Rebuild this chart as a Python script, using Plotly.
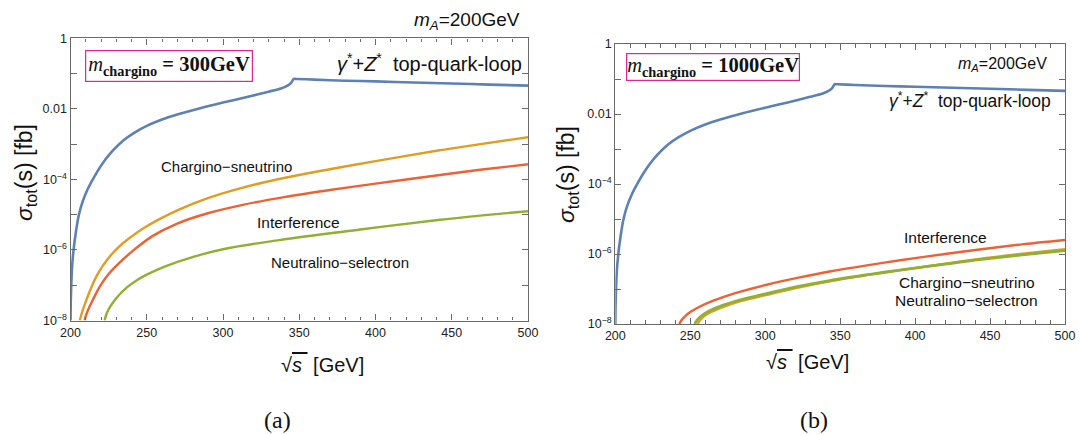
import plotly.graph_objects as go

# ---------------- data ----------------
# top-quark-loop (gamma*+Z*), same in both panels
s_loop = [200, 200.15, 200.5, 201, 202, 203.5, 205.5, 208, 211, 215, 219, 223, 228, 235, 242,
          250, 260, 270, 285, 300, 315, 330, 338, 342, 344.5, 346.3, 348, 360, 380, 400, 425,
          450, 475, 500]
sig_loop = [1e-8, 3.16e-8, 1e-7, 3.16e-7, 1e-6, 3.16e-6, 1e-5, 2.40e-5, 5.01e-5, 1.07e-4,
            2.09e-4, 3.72e-4, 6.76e-4, 1.32e-3, 2.14e-3, 3.31e-3, 5.01e-3, 6.92e-3, 1.05e-2,
            1.51e-2, 2.14e-2, 3.09e-2, 3.80e-2, 4.47e-2, 5.37e-2, 7.08e-2, 7.08e-2, 6.76e-2,
            6.31e-2, 6.03e-2, 5.62e-2, 5.25e-2, 4.90e-2, 4.57e-2]

# panel (a): m_chargino = 300 GeV
s_a_cs = [206.1, 207, 208.5, 210.4, 213.5, 217, 221, 226, 231, 237, 250, 270, 290, 313, 340,
          370, 400, 441, 470, 500]
sig_a_cs = [1e-8, 1.41e-8, 2.24e-8, 3.80e-8, 8.32e-8, 1.78e-7, 3.47e-7, 6.76e-7, 1.15e-6,
            1.91e-6, 4.68e-6, 1.32e-5, 2.95e-5, 5.89e-5, 1.10e-4, 1.95e-4, 3.31e-4, 6.61e-4,
            1.02e-3, 1.58e-3]
s_a_int = [209.3, 210.2, 212, 214.8, 218, 221.3, 225, 230, 241, 254, 270, 290, 313, 340, 370,
           400, 441, 470, 500]
sig_a_int = [1e-8, 1.41e-8, 2.24e-8, 3.98e-8, 7.41e-8, 1.26e-7, 2.09e-7, 3.55e-7, 9.55e-7,
             2.51e-6, 5.62e-6, 1.10e-5, 1.91e-5, 3.16e-5, 5.01e-5, 7.59e-5, 1.32e-4, 1.91e-4,
             2.69e-4]
s_a_ns = [222.4, 223.3, 225, 228, 232, 237, 243, 250, 263, 280, 300, 337, 390, 441, 470, 500]
sig_a_ns = [1e-8, 1.41e-8, 2.09e-8, 3.31e-8, 5.37e-8, 8.71e-8, 1.35e-7, 2.0e-7, 3.55e-7, 6.31e-7,
            1.05e-6, 1.91e-6, 3.80e-6, 7.08e-6, 9.55e-6, 1.26e-5]

# panel (b): m_chargino = 1000 GeV
s_b_int = [242.7, 244, 246.5, 250, 256.5, 265, 279, 301, 323, 343, 370, 390, 420, 443, 470, 500]
sig_b_int = [1e-8, 1.26e-8, 1.66e-8, 2.19e-8, 3.16e-8, 4.57e-8, 7.41e-8, 1.32e-7, 2.14e-7,
             3.16e-7, 4.90e-7, 6.61e-7, 1.0e-6, 1.35e-6, 1.86e-6, 2.51e-6]
s_b_cs = [255, 256.3, 258.5, 262, 267, 274, 282, 292, 303, 323, 343, 370, 390, 420, 443, 470, 500]
sig_b_cs = [1e-8, 1.26e-8, 1.58e-8, 2.0e-8, 2.51e-8, 3.31e-8, 4.27e-8, 5.50e-8, 7.08e-8, 1.12e-7,
            1.66e-7, 2.57e-7, 3.47e-7, 5.25e-7, 7.24e-7, 1.0e-6, 1.38e-6]
s_b_ns = [253, 254.3, 256.5, 260, 265, 272, 280, 290, 301, 323, 343, 370, 390, 420, 443, 470, 500]
sig_b_ns = [1e-8, 1.26e-8, 1.58e-8, 2.04e-8, 2.63e-8, 3.47e-8, 4.47e-8, 5.75e-8, 7.41e-8, 1.20e-7,
            1.74e-7, 2.63e-7, 3.47e-7, 5.13e-7, 6.92e-7, 9.33e-7, 1.26e-6]

x_ticks = [200, 250, 300, 350, 400, 450, 500]
y_ticks = [1, 1e-2, 1e-4, 1e-6, 1e-8]
y_ticktext = ["1", "0.01", "10<sup>−4</sup>", "10<sup>−6</sup>", "10<sup>−8</sup>"]
y_minor = [1e-1, 1e-3, 1e-5, 1e-7]

BLUE, ORANGE, GREEN, RED = "#5E81B5", "#E19C24", "#8FB032", "#EB6235"

W, H = 1080, 435
fig = go.Figure()


def add(x, y, color, xa, ya, width=2.4, smoothing=1.0):
    fig.add_trace(go.Scatter(x=x, y=y, mode="lines", xaxis=xa, yaxis=ya, showlegend=False,
                             hoverinfo="skip",
                             line=dict(color=color, width=width, shape="spline",
                                       smoothing=smoothing)))


add(s_loop, sig_loop, BLUE, "x", "y", 2.6, 0.6)
add(s_a_cs, sig_a_cs, ORANGE, "x", "y")
add(s_a_int, sig_a_int, RED, "x", "y")
add(s_a_ns, sig_a_ns, GREEN, "x", "y")

add(s_loop, sig_loop, BLUE, "x2", "y2", 2.6, 0.6)
add(s_b_int, sig_b_int, RED, "x2", "y2")
add(s_b_cs, sig_b_cs, ORANGE, "x2", "y2")
add(s_b_ns, sig_b_ns, GREEN, "x2", "y2", 2.8)


def px(x):
    return x / W


def py(y):
    return 1 - y / H


FRAME = "#6a6a6a"
tickfont = dict(family="Liberation Sans, Arial", size=12.5, color="#222")

xcommon = dict(range=[200, 500], tickvals=x_ticks, ticks="inside", ticklen=6, tickwidth=1,
               tickcolor=FRAME, showline=True, linecolor=FRAME, linewidth=1.3, mirror="ticks",
               showgrid=False, zeroline=False, tickfont=tickfont, automargin=False,
               minor=dict(dtick=10, tick0=200, ticks="inside", ticklen=3.5, tickcolor=FRAME,
                          showgrid=False))
ycommon = dict(type="log", range=[-8, 0], tickvals=y_ticks, ticktext=y_ticktext, ticks="inside",
               ticklen=6, tickwidth=1, tickcolor=FRAME, showline=True, linecolor=FRAME,
               linewidth=1.3, mirror="ticks", showgrid=False, zeroline=False, tickfont=tickfont,
               automargin=False,
               minor=dict(tickvals=y_minor, ticks="inside", ticklen=6, tickcolor=FRAME,
                          showgrid=False))

fig.update_layout(
    width=W, height=H, margin=dict(l=0, r=0, t=0, b=0, pad=0, autoexpand=False),
    paper_bgcolor="white", plot_bgcolor="white",
    xaxis=dict(domain=[px(70.5), px(528)], anchor="y", **xcommon),
    yaxis=dict(domain=[py(320.5), py(38.4)], anchor="x", **ycommon),
    xaxis2=dict(domain=[px(615.3), px(1065)], anchor="y2", **xcommon),
    yaxis2=dict(domain=[py(324), py(44)], anchor="x2", **ycommon),
)

SANS = "Liberation Sans, Arial"
SERIF = "Liberation Serif, Times New Roman"
ann = []


def text(x, y, t, size, family=SANS, color="#111", **kw):
    ann.append(dict(x=px(x), y=py(y), xref="paper", yref="paper", text=t, showarrow=False,
                    font=dict(family=family, size=size, color=color), xanchor="center",
                    yanchor="middle", **kw))


mch = "<i>m</i><sub><b>chargino</b></sub><b> = {}GeV</b>"
sqrt_s = "√<span style='text-decoration:overline'><i>s</i> </span> [GeV]"
gz = "<i>γ</i><sup>*</sup>+<i>Z</i><sup>*</sup>  top-quark-loop"
ma = "<i>m</i><sub><i>A</i></sub>=200GeV"
sigma = "<i>σ</i><sub>tot</sub>(s) [fb]"
MAG = "#E0268F"

# panel (a)
text(467, 21, ma, 19)
text(429, 62, gz, 20)
text(169, 65.5, mch.format(300), 20.5, family=SERIF, bordercolor=MAG, borderwidth=1.2,
     borderpad=2, bgcolor="white")
text(226, 167, "Chargino−sneutrino", 15)
text(298, 223, "Interference", 15.5)
text(340, 262, "Neutralino−selectron", 15)
text(25, 173, sigma, 23, textangle=-90)
text(322, 365, sqrt_s, 20)
text(277, 420, "(a)", 24, family=SERIF)

# panel (b)
text(1002, 64, ma, 16)
text(970, 100, gz, 17.5)
text(713, 66.5, mch.format(1000), 20.5, family=SERIF, bordercolor=MAG, borderwidth=1.2,
     borderpad=0, bgcolor="white")
text(945, 237, "Interference", 15.5)
text(967, 282, "Chargino−sneutrino", 15.5)
text(966, 300, "Neutralino−selectron", 15.5)
text(567, 175, sigma, 23, textangle=-90)
text(807, 362, sqrt_s, 20)
text(814, 420, "(b)", 24, family=SERIF)

fig.update_layout(annotations=ann)
fig.write_html(
    "out.html",
    config={"displayModeBar": False},
    post_script="document.body.style.margin='0';document.body.style.overflow='hidden';",
)
